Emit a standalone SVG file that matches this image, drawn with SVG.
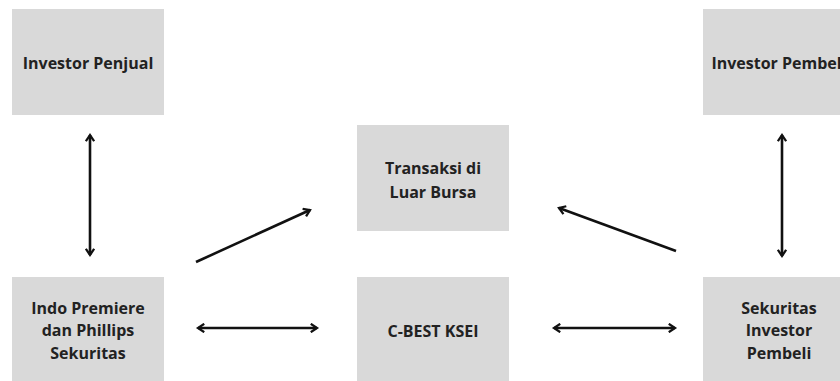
<svg xmlns="http://www.w3.org/2000/svg" width="840" height="381" viewBox="0 0 840 381">
<style>
.box{fill:#d9d9d9}
.t{font-family:"Open Sans","Liberation Sans",sans-serif;font-weight:700;font-size:16px;fill:#222;text-anchor:middle;dominant-baseline:central}
.c{stroke:#111;stroke-width:2.6;fill:none;marker-end:url(#ah)}
.cb{stroke:#111;stroke-width:2.6;fill:none;marker-end:url(#ah);marker-start:url(#ahs)}
</style>
<defs>
<marker id="ah" viewBox="0 0 10 10" refX="7.5" refY="5" markerWidth="4" markerHeight="4" orient="auto" markerUnits="strokeWidth">
<path d="M1.5,1 L7.5,5 L1.5,9" fill="none" stroke="#111" stroke-width="2.2" stroke-linejoin="miter"/>
</marker>
<marker id="ahs" viewBox="0 0 10 10" refX="2.5" refY="5" markerWidth="4" markerHeight="4" orient="auto" markerUnits="strokeWidth">
<path d="M8.5,1 L2.5,5 L8.5,9" fill="none" stroke="#111" stroke-width="2.2" stroke-linejoin="miter"/>
</marker>
</defs>
<rect width="840" height="381" fill="#fff"/>
<g id="investor-penjual">
<rect class="box" x="12" y="9" width="152" height="106"/>
<text class="t" x="88" y="63">Investor Penjual</text>
</g>
<g id="investor-pembeli">
<rect class="box" x="703" y="9" width="152" height="106"/>
<text class="t" x="779" y="63">Investor Pembeli</text>
</g>
<g id="transaksi">
<rect class="box" x="357" y="125" width="152" height="106"/>
<text class="t" x="433" y="168">Transaksi di</text>
<text class="t" x="433" y="192">Luar Bursa</text>
</g>
<g id="indo-premiere">
<rect class="box" x="12" y="277" width="152" height="110"/>
<text class="t" x="88" y="308">Indo Premiere</text>
<text class="t" x="88" y="330">dan Phillips</text>
<text class="t" x="88" y="353">Sekuritas</text>
</g>
<g id="cbest">
<rect class="box" x="357" y="277" width="152" height="110"/>
<text class="t" x="433" y="331">C-BEST KSEI</text>
</g>
<g id="sekuritas-pembeli">
<rect class="box" x="703" y="277" width="152" height="110"/>
<text class="t" x="779" y="308">Sekuritas</text>
<text class="t" x="779" y="330">Investor</text>
<text class="t" x="779" y="353">Pembeli</text>
</g>
<g id="connectors">
<line class="cb" x1="90" y1="135" x2="90" y2="255"/>
<line class="cb" x1="782" y1="135" x2="782" y2="256"/>
<line class="cb" x1="198" y1="328" x2="317" y2="328"/>
<line class="cb" x1="554" y1="328" x2="675" y2="328"/>
<line class="c" x1="196" y1="262" x2="310" y2="210"/>
<line class="c" x1="676" y1="251" x2="559" y2="208"/>
</g>
</svg>
